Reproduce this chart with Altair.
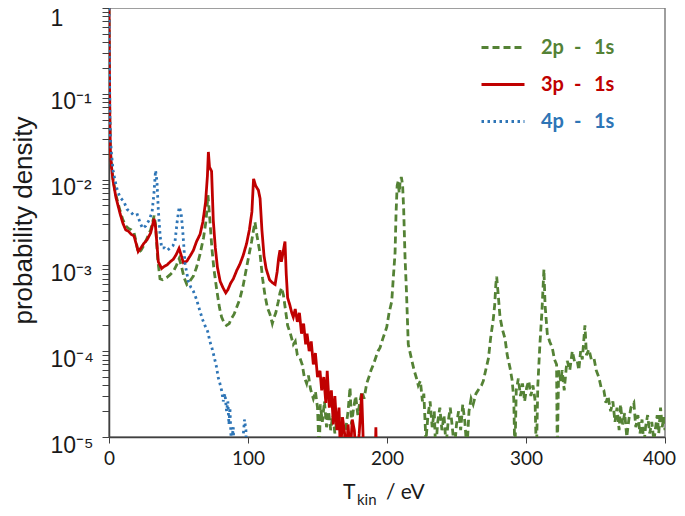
import altair as alt
import pandas as pd

series_names = ["2p - 1s", "3p - 1s", "4p - 1s"]
series_colors = ["#548235", "#C00000", "#2E75B6"]
series_dash = [[7, 4], [1, 0], [2.5, 3.5]]

# (T_kin [eV], probability density)
pts_2p = [(0, 1.0), (0.3, 0.2), (0.6, 0.05), (1.0, 0.022), (1.8, 0.014), (3, 0.0098), (5, 0.0066), (8, 0.0043),
          (10, 0.0034), (12, 0.0029), (14, 0.0027), (16, 0.0026), (18, 0.0024), (19.5, 0.0019), (21, 0.0014),
          (23, 0.0015), (25, 0.0017), (27.5, 0.0021), (30, 0.0026), (32.5, 0.0038), (33.5, 0.003), (35, 0.0012),
          (36.7, 0.0007), (38.5, 0.00068), (41.5, 0.00072), (44, 0.00078), (46.3, 0.00085), (48.5, 0.001),
          (50.5, 0.0012), (52, 0.001), (54, 0.00072), (56, 0.0006), (58, 0.00065), (60.7, 0.00075), (63, 0.00095),
          (65.5, 0.00135), (68, 0.0021), (69.8, 0.0033), (71.2, 0.0066), (72.5, 0.0035), (74, 0.0016),
          (75.5, 0.0009), (77.5, 0.00052), (79.5, 0.00032), (81, 0.00025), (82.5, 0.00022), (84.5, 0.0002),
          (86.5, 0.00021), (88, 0.00024), (90, 0.00027), (92, 0.00033), (94, 0.0004), (96.5, 0.00058),
          (99, 0.00095), (101, 0.0014), (102.6, 0.0019), (104, 0.0026), (105, 0.0032), (106.5, 0.0022),
          (108.6, 0.0014), (110.5, 0.0007), (112.2, 0.00045), (114, 0.00032), (115.8, 0.00027), (117.5, 0.00021),
          (118.5, 0.00024), (120, 0.00028), (121.8, 0.00038), (123, 0.00048), (124.2, 0.00055), (125.5, 0.00045),
          (127, 0.0003), (128.5, 0.0002), (130.5, 0.00016), (132.6, 0.00012), (134, 0.00013), (135.5, 9e-5),
          (137.4, 8.3e-5), (139, 7e-5), (140.5, 5e-5), (142.2, 4.2e-5), (143.5, 5.2e-5), (145, 3.6e-5),
          (147, 2.8e-5), (148.5, 3.4e-5), (150, 2.2e-5), (151.3, 6e-6), (152, 2.4e-5), (153.5, 1.5e-5),
          (155, 2.6e-5), (156.5, 1.3e-5), (158, 2e-5), (159.5, 1.2e-5), (161, 1.8e-5), (162.5, 1.1e-5),
          (164, 1.6e-5), (166.2, 1.2e-5), (167.5, 1.7e-5), (169, 7e-6), (170.5, 1.3e-5), (172, 2e-5),
          (173.4, 3.8e-5), (174.5, 1.4e-5), (176, 2.2e-5), (177.5, 3e-5), (179, 1.8e-5), (180.5, 2.6e-5),
          (182, 3.4e-5), (183.5, 2.8e-5), (185.4, 4.2e-5), (187, 5e-5), (188.5, 6e-5), (190.2, 7e-5),
          (192, 8.5e-5), (193.5, 0.0001), (195, 0.00011), (197, 0.00014), (199.8, 0.00019), (201.5, 0.00028),
          (203.4, 0.00038), (204.5, 0.0007), (205.8, 0.0014), (206.5, 0.004), (207.3, 0.0085), (208, 0.0095),
          (208.8, 0.007), (209.5, 0.0098), (210.3, 0.0107), (211.2, 0.0088), (212, 0.0045), (213, 0.0012),
          (214, 0.0005), (215.3, 0.00012), (217.7, 8e-5), (219.5, 6e-5), (221.3, 4.8e-5), (222.5, 4e-5),
          (224, 4.5e-5), (225.5, 2.6e-5), (226.5, 3.2e-5), (228, 9e-6), (229.5, 1.8e-5), (231, 2.6e-5),
          (232.5, 1.3e-5), (234, 2e-5), (235, 7e-6), (236.5, 1.5e-5), (238, 2.2e-5), (239.5, 1.2e-5),
          (241, 1.8e-5), (242.5, 8e-6), (244, 1.5e-5), (245.5, 2.2e-5), (247, 1.3e-5), (248.5, 7e-6),
          (250, 1.4e-5), (251.5, 2e-5), (253, 1.2e-5), (254.5, 2.4e-5), (256, 1.5e-5), (257.5, 7e-6),
          (259, 2e-5), (260.5, 2.8e-5), (262, 2.4e-5), (264, 3.2e-5), (266, 3.6e-5), (268, 4e-5),
          (269.3, 4.5e-5), (271, 6e-5), (273, 8.3e-5), (274.5, 0.00014), (276.5, 0.00024), (277.5, 0.00035),
          (278.3, 0.0006), (278.9, 0.00074), (279.8, 0.0005), (281.3, 0.00025), (283, 0.00018), (284.9, 0.00014),
          (286.5, 9e-5), (288.5, 6.4e-5), (290, 4.6e-5), (291.2, 2.8e-5), (292, 6e-6), (293, 3.5e-5),
          (294.5, 4.8e-5), (296, 3e-5), (297.5, 4.2e-5), (299, 2.6e-5), (300.5, 3.8e-5), (302, 4.5e-5),
          (303.5, 3e-5), (305, 4e-5), (306.5, 2.7e-5), (307.5, 6e-6), (308.5, 4e-5), (310, 0.00012),
          (311.5, 0.0003), (312.9, 0.0009), (313.7, 0.00035), (315.3, 0.00016), (317, 0.00013), (318.9, 0.00011),
          (320.5, 8e-5), (322, 7e-5), (322.5, 6e-6), (323.5, 6e-5), (325, 4.5e-5), (326, 6e-5), (327.5, 3.5e-5),
          (329, 6.5e-5), (329.7, 7.7e-5), (331.5, 6e-5), (333.3, 0.0001), (335, 7.5e-5), (336.9, 7.7e-5),
          (338, 6e-5), (339.3, 0.0001), (340.5, 8e-5), (342.4, 0.0002), (343.5, 9e-5), (345.3, 0.000105),
          (347, 8e-5), (348.9, 8.3e-5), (350.5, 6e-5), (352.5, 4.9e-5), (354, 3.8e-5), (356, 3.5e-5),
          (357.5, 2.5e-5), (359, 3e-5), (360.9, 2e-5), (362.5, 2.6e-5), (364, 1.5e-5), (365.5, 2.2e-5),
          (367, 1.2e-5), (368, 2.4e-5), (369.5, 1.4e-5), (371, 1.9e-5), (372.5, 1e-5), (374, 1.6e-5),
          (375.5, 2.2e-5), (377.6, 2.5e-5), (379, 1.3e-5), (380.5, 1.8e-5), (382, 1.1e-5), (383.5, 1.6e-5),
          (384.8, 8e-6), (386, 1.3e-5), (387.5, 1.8e-5), (389, 1.1e-5), (390.5, 1.5e-5), (392, 9e-6),
          (393.5, 1.4e-5), (394.4, 1.8e-5), (395.5, 1.1e-5), (396.8, 2.2e-5), (398, 1.3e-5), (399, 1.7e-5),
          (400, 1.2e-5)]

pts_3p = [(0, 1.0), (0.3, 0.2), (0.6, 0.05), (1.0, 0.022), (1.8, 0.014), (3, 0.0095), (5, 0.0062), (8, 0.004),
          (10, 0.0031), (12, 0.0026), (14, 0.0025), (16, 0.0023), (18, 0.0022), (19.5, 0.0018), (21, 0.00145),
          (23, 0.0016), (25, 0.0018), (27.5, 0.002), (30, 0.0024), (32.4, 0.0035), (33.5, 0.0028), (35.5, 0.0011),
          (37.9, 0.00092), (40, 0.00098), (42, 0.00102), (44, 0.0011), (46.3, 0.00118), (48.5, 0.00135),
          (50.4, 0.00158), (52, 0.0013), (53.5, 0.00108), (56, 0.00112), (58.5, 0.0013), (60.7, 0.0015),
          (63, 0.0019), (65.5, 0.0023), (67.5, 0.0032), (69.5, 0.0055), (70.8, 0.011), (71.5, 0.021),
          (72.3, 0.014), (73.8, 0.0125), (75, 0.0034), (76.5, 0.0016), (78, 0.00095), (80, 0.00065),
          (82, 0.00055), (84, 0.00048), (85.5, 0.00052), (87.5, 0.00062), (89.5, 0.0007), (92, 0.00088),
          (94, 0.00102), (96.5, 0.0013), (99, 0.0018), (101, 0.0026), (102.8, 0.0042), (104, 0.0102),
          (105.5, 0.0085), (107.5, 0.0075), (108.7, 0.006), (110, 0.0026), (111.5, 0.0013), (113, 0.00092),
          (115.5, 0.00068), (117.5, 0.00063), (119.5, 0.0006), (121, 0.00085), (122, 0.0012), (123, 0.0015),
          (124, 0.0011), (125.5, 0.0015), (126.6, 0.0019), (127.5, 0.0008), (128.5, 0.00042), (130, 0.00035),
          (131.5, 0.00028), (132.6, 0.00025), (134, 0.00031), (135.5, 0.00022), (137, 0.00028), (138.5, 0.00016),
          (140, 0.00021), (141.5, 0.00012), (142.5, 0.00016), (144, 0.0001), (145.5, 0.00013), (147, 7e-5),
          (148.5, 9.5e-5), (150, 5e-5), (151.8, 5.9e-5), (153, 3.5e-5), (154.5, 5e-5), (156, 2.5e-5),
          (157, 5.9e-5), (158.5, 2.2e-5), (160, 3.5e-5), (161.4, 1.4e-5), (162.5, 3e-5), (164, 1.2e-5),
          (165.5, 2.2e-5), (166.5, 6e-6), (168, 1.7e-5), (169.5, 1.1e-5), (170.5, 5e-6), (172, 1.4e-5),
          (173.5, 6e-6), (175, 1.6e-5), (176.5, 1.2e-5), (178, 5e-6), (180, 1.1e-5), (181.8, 3.2e-5),
          (183, 8e-6), (184, 5e-6), (191.5, 5e-6), (192, 1.3e-5), (192.5, 5e-6)]

pts_4p = [(0, 1.0), (0.3, 0.25), (0.6, 0.06), (1.0, 0.03), (1.8, 0.02), (3, 0.0125), (4.5, 0.0095), (6, 0.0075),
          (8, 0.0062), (10.8, 0.0055), (13, 0.0045), (15.6, 0.0042), (18, 0.0038), (20.4, 0.0039), (22.5, 0.0031),
          (24.2, 0.0027), (26.5, 0.0029), (29, 0.0034), (31, 0.0042), (32.3, 0.0068), (33.5, 0.0128),
          (34.5, 0.0095), (35.5, 0.0044), (36.8, 0.0022), (37.9, 0.0016), (40, 0.0016), (42, 0.0015),
          (44, 0.0016), (46, 0.0017), (47.5, 0.0019), (49, 0.0032), (50.5, 0.0048), (51.8, 0.0042), (53, 0.0026),
          (54.7, 0.00105), (57.1, 0.00065), (59, 0.00055), (60.7, 0.0005), (63, 0.0004), (65.5, 0.00029),
          (67.5, 0.00023), (69, 0.0002), (71, 0.00017), (72.6, 0.00013), (74, 0.00011), (75, 9.5e-5),
          (76.5, 7.5e-5), (77.4, 6.5e-5), (78.5, 5e-5), (79.8, 4.2e-5), (81, 3.5e-5), (82.2, 2.6e-5),
          (83.4, 3.2e-5), (84.6, 2e-5), (85.5, 2.6e-5), (86.3, 1.4e-5), (87, 2.2e-5), (88, 8e-6), (89.4, 1.3e-5),
          (90.3, 5e-6), (95, 5e-6), (97.5, 1.6e-5), (98.5, 1.2e-5), (99, 5e-6)]

x_ticks = [0, 100, 200, 300, 400]
y_decades = [-5, -4, -3, -2, -1, 0]
y_tick_labels = ["10⁻⁵", "10⁻⁴", "10⁻³", "10⁻²", "10⁻¹", "1"]

rows = []
for name, pts in zip(series_names, [pts_2p, pts_3p, pts_4p]):
    for i, (x, y) in enumerate(pts):
        rows.append({"series": name, "T": x, "p": y, "i": i})
df = pd.DataFrame(rows)

y_values = []
for e in range(-5, 0):
    for k in range(1, 10):
        y_values.append(float(f"{k}e{e}"))
y_values.append(1.0)

label_expr = " : ".join(
    f"datum.value == {float(f'1e{e}')!r} ? '{lab}'" for e, lab in zip(y_decades, y_tick_labels)
) + " : ''"

leg = alt.Legend(
    orient="none", legendX=371, legendY=21, symbolType="stroke", symbolSize=1849,
    symbolStrokeWidth=2.8, labelFont="Lato", labelFontSize=20, labelFontWeight="bold",
    labelColor={"expr": "scale('color', datum.value)"}, labelOffset=15, clipHeight=37,
    rowPadding=0, padding=0,
    labelExpr="replace(datum.label, ' - ', '\u2002-\u2002\u2009')",
)

lines = alt.Chart(df).mark_line(strokeWidth=2.8, clip=True).encode(
    x=alt.X("T:Q", scale=alt.Scale(domain=[0, 400], nice=False, zero=False),
            axis=alt.Axis(values=x_ticks, title=None, grid=False, tickSize=6, labelFont="Lato",
                          labelFontSize=19, labelPadding=6, labelColor="#1a1a1a", domainColor="#404040",
                          tickColor="#404040", domainWidth=1.5, labelFlush=False,
                          labelOffset={"condition": {"test": "datum.value == 400", "value": -6}, "value": 0})),
    y=alt.Y("p:Q", scale=alt.Scale(type="log", domain=[1e-5, 1], nice=False),
            axis=alt.Axis(values=y_values, labelExpr=label_expr, title="probability density", grid=False,
                          tickSize=7, labelAlign="left", labelPadding=52, labelBaseline="middle",
                          labelOffset={"condition": {"test": "datum.value == 1", "value": 10}, "value": 8},
                          labelOverlap=False, labelFlush=False, labelFont="Liberation Sans", labelFontSize=23,
                          labelColor="#1a1a1a", domainColor="#404040", tickColor="#404040", domainWidth=1.5,
                          titleFont="Liberation Sans", titleFontSize=26, titleFontWeight="normal",
                          titleColor="#1a1a1a", titleAngle=-90, titleX=-78, titleY=212,
                          titleBaseline="alphabetic", titleAlign="center")),
    color=alt.Color("series:N", title=None, scale=alt.Scale(domain=series_names, range=series_colors), legend=leg),
    strokeDash=alt.StrokeDash("series:N", title=None, scale=alt.Scale(domain=series_names, range=series_dash),
                              legend=leg),
)

tdf = pd.DataFrame({"t": [0]})
t_main = alt.Chart(tdf).mark_text(text="T", font="Lato", fontSize=21, align="left", baseline="alphabetic",
                                  color="#1a1a1a").encode(x=alt.value(234), y=alt.value(491))
t_sub = alt.Chart(tdf).mark_text(text="kin", font="Lato", fontSize=15, align="left", baseline="alphabetic",
                                 color="#1a1a1a").encode(x=alt.value(248), y=alt.value(497))
t_unit = alt.Chart(tdf).mark_text(text="/ eV", font="Lato", fontSize=21, align="left", baseline="alphabetic",
                                  color="#1a1a1a").encode(x=alt.value(277), y=alt.value(491))

chart = alt.layer(lines, t_main, t_sub, t_unit).properties(
    width=556, height=429,
    autosize=alt.AutoSizeParams(type="none"),
    padding={"left": 101, "top": 0, "right": 12, "bottom": 71},
).configure_view(stroke="#7f7f7f", strokeWidth=1.5)

chart.save("out.html", embed_options={"renderer": "svg", "actions": False})
